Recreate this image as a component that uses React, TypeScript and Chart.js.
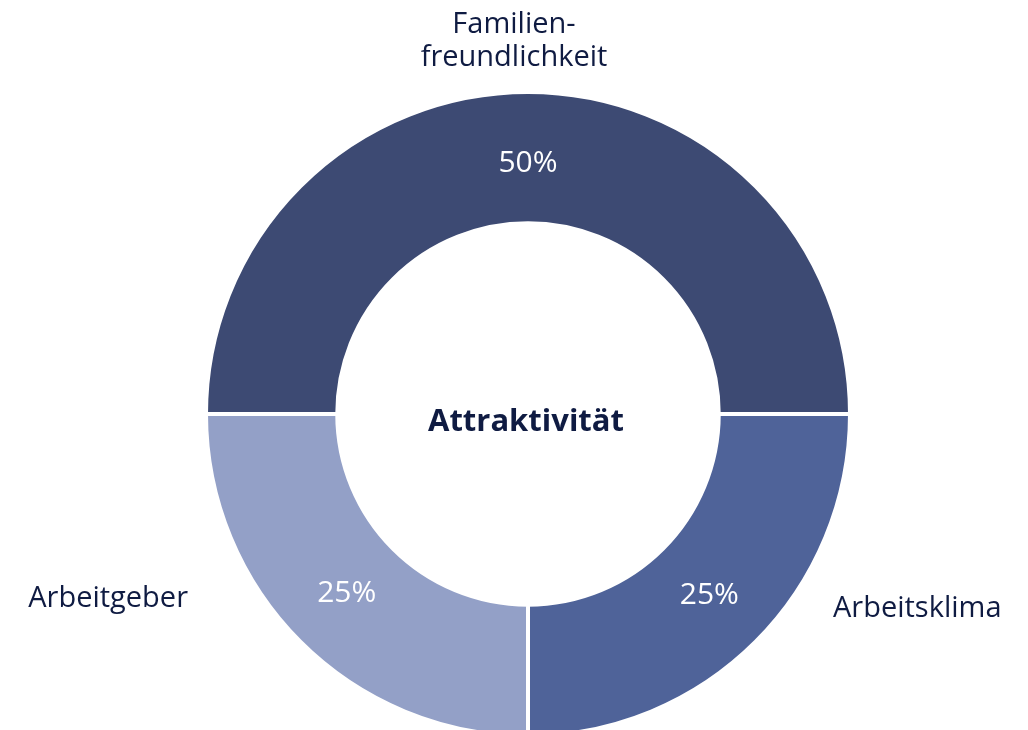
import React, { useEffect, useRef } from "react";
import { Chart, registerables } from "chart.js";

Chart.register(...registerables);

const categories = ["Familien-\nfreundlichkeit", "Arbeitsklima", "Arbeitgeber"];
const shares = [50, 25, 25];
const centerTitle = "Attraktivität";
const segmentColors = ["#3d4a73", "#4f6399", "#93a0c7"];

const TEXT_COLOR = "#0f1b42";
const FONT = "'Open Sans', 'Noto Sans', sans-serif";

// label anchor offsets relative to the doughnut centre (styling only)
const labelOffsets = [
  { dx: -14, dy: -373, align: "center" as CanvasTextAlign },
  { dx: 305, dy: 195, align: "left" as CanvasTextAlign },
  { dx: -340, dy: 185, align: "right" as CanvasTextAlign },
];
const percentNudge = [5, -1, -3];

const textPlugin = {
  id: "doughnutText",
  afterDraw(chart: any) {
    const ctx = chart.ctx as CanvasRenderingContext2D;
    const meta = chart.getDatasetMeta(0);
    if (!meta || !meta.data.length) return;
    const arc0 = meta.data[0] as any;
    const cx = arc0.x;
    const cy = arc0.y;
    ctx.save();
    ctx.textBaseline = "middle";

    // centre title
    ctx.fillStyle = TEXT_COLOR;
    ctx.font = `bold 31px ${FONT}`;
    ctx.textAlign = "center";
    ctx.fillText(centerTitle, cx - 2, cy + 8);

    // percentage labels
    ctx.fillStyle = "#ffffff";
    ctx.font = `30px ${FONT}`;
    meta.data.forEach((el: any, i: number) => {
      const p = el.getCenterPoint();
      ctx.textAlign = "center";
      ctx.fillText(`${shares[i]}%`, p.x, p.y + 1 + percentNudge[i]);
    });

    // category labels
    ctx.fillStyle = TEXT_COLOR;
    ctx.font = `29px ${FONT}`;
    categories.forEach((label, i) => {
      const off = labelOffsets[i];
      const lines = label.split("\n");
      const lh = 33;
      ctx.textAlign = off.align;
      lines.forEach((line, j) => {
        const y = cy + off.dy + (j - (lines.length - 1) / 2) * lh;
        ctx.fillText(line, cx + off.dx, y);
      });
    });
    ctx.restore();
  },
};

export default function App() {
  const canvasRef = useRef<HTMLCanvasElement | null>(null);

  useEffect(() => {
    if (!canvasRef.current) return;
    const chart = new Chart(canvasRef.current, {
      type: "doughnut",
      data: {
        labels: categories.map((c) => c.replace("-\n", "")),
        datasets: [
          {
            data: shares,
            backgroundColor: segmentColors,
            borderColor: "#ffffff",
            borderWidth: 4,
            hoverOffset: 0,
            clip: false as any,
          },
        ],
      },
      options: {
        animation: false,
        responsive: true,
        maintainAspectRatio: false,
        rotation: -90,
        radius: 322,
        cutout: 186,
        layout: { padding: { left: 28, right: 0, top: 98, bottom: 0 } },
        plugins: {
          legend: { display: false },
          tooltip: { enabled: false },
        },
        events: [],
      },
      plugins: [textPlugin],
    });
    return () => chart.destroy();
  }, []);

  return (
    <div style={{ position: "absolute", left: 0, top: 0, width: 1028, height: 730, background: "#fff" }}>
      <canvas ref={canvasRef} />
    </div>
  );
}
